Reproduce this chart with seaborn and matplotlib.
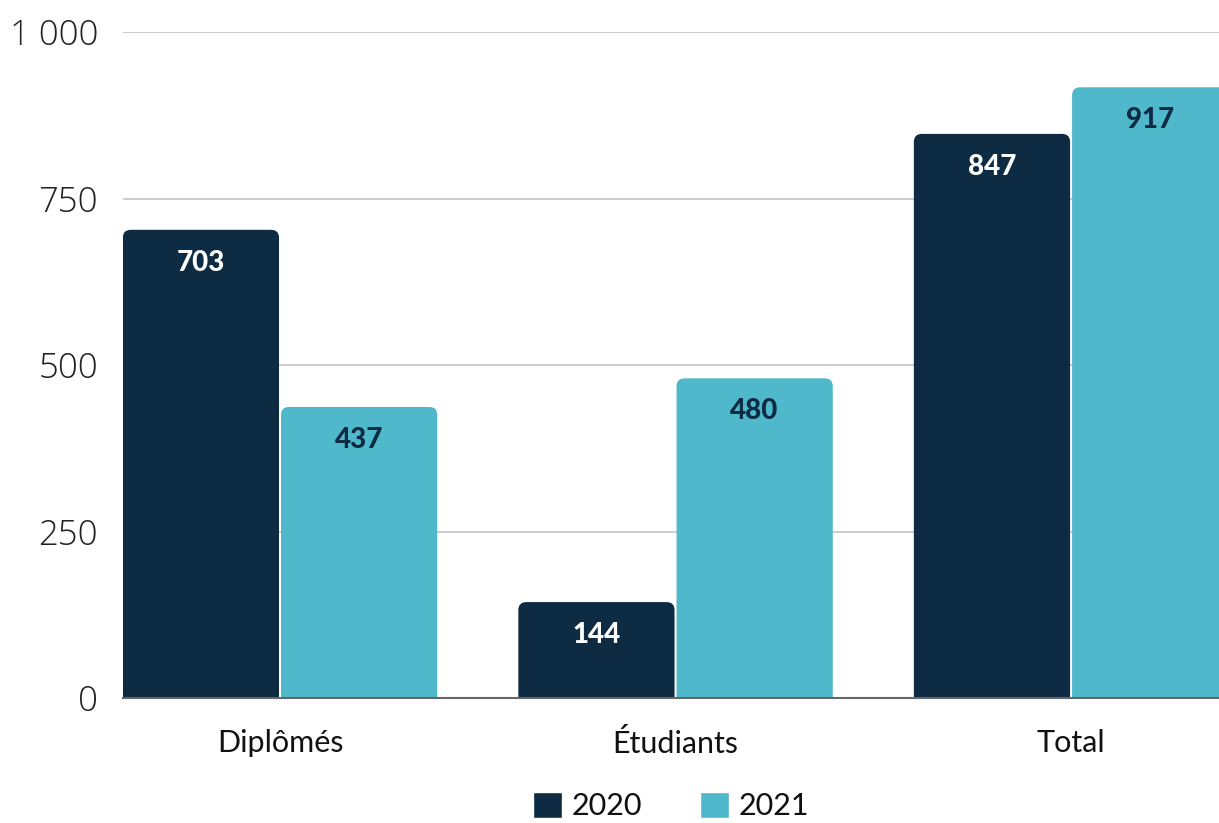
import pandas as pd
import numpy as np
import seaborn as sns
import matplotlib.pyplot as plt
from matplotlib.patches import FancyBboxPatch

# données
categories = ['Diplômés', 'Étudiants', 'Total']
annees = ['2020', '2021']
valeurs_2020 = [703, 144, 847]
valeurs_2021 = [437, 480, 917]

couleurs = {'2020': '#0d2b42', '2021': '#4fb8cb'}
couleurs_texte = {'2020': 'white', '2021': '#0d2b42'}

df = pd.DataFrame({
    'categorie': categories * 2,
    'annee': ['2020'] * 3 + ['2021'] * 3,
    'valeur': valeurs_2020 + valeurs_2021,
})

sns.set_style('white')
plt.rcParams['font.family'] = ['Lato', 'DejaVu Sans']

fig = plt.figure(figsize=(12.19, 8.23), dpi=100)
ax = fig.add_axes([123 / 1219, 125 / 823, 1 - 123 / 1219, (698 - 32) / 823])

sns.barplot(data=df, x='categorie', y='valeur', hue='annee', hue_order=annees,
            palette=couleurs, width=0.8, ax=ax, legend=True, saturation=1)

ax.set_xlim(-0.397, 2.374)
ax.set_ylim(0, 1000)

# pixels -> unités de données
px_x = (2.374 + 0.397) / 1096
px_y = 1000 / 666
rayon = 8 * px_x

# remplace les barres par des barres aux coins arrondis en haut
for conteneur, annee in zip(ax.containers, annees):
    for barre in conteneur:
        x0 = barre.get_x() + px_x
        w = barre.get_width() - 2 * px_x
        h = barre.get_height()
        barre.set_visible(False)
        arrondi = FancyBboxPatch((x0, -30), w, h + 30,
                                 boxstyle=f'round,pad=0,rounding_size={rayon}',
                                 mutation_aspect=px_y / px_x,
                                 facecolor=couleurs[annee], edgecolor='none',
                                 zorder=3)
        ax.add_patch(arrondi)
        ax.text(barre.get_x() + barre.get_width() / 2, h - 33 * px_y, f'{int(h)}',
                ha='center', va='center', fontsize=20, fontweight='black',
                color=couleurs_texte[annee], zorder=4)

ax.set_yticks([0, 250, 500, 750, 1000])
ax.set_yticklabels(['0', '250', '500', '750', '1 000'],
                   fontsize=25, fontfamily='Open Sans', fontweight='light', color='#222222')
ax.tick_params(axis='y', length=0, pad=18)
ax.tick_params(axis='x', length=0, labelsize=22, pad=22, labelcolor='#111111')
ax.grid(axis='y', color='#c8c8c8', linewidth=1.3, zorder=0)
ax.set_axisbelow(True)
ax.set_xlabel('')
ax.set_ylabel('')

for cote in ['top', 'right', 'left']:
    ax.spines[cote].set_visible(False)
ax.spines['bottom'].set_color('#666666')
ax.spines['bottom'].set_linewidth(1.5)
ax.spines['bottom'].set_zorder(5)

leg = ax.legend(loc='center', bbox_to_anchor=(0.5, -0.162), ncol=2, frameon=False,
                fontsize=22, handlelength=0.95, handleheight=0.95, columnspacing=1.9,
                handletextpad=0.3, borderpad=0)
for txt in leg.get_texts():
    txt.set_color('#111111')

fig.savefig('out.png', dpi=100)
